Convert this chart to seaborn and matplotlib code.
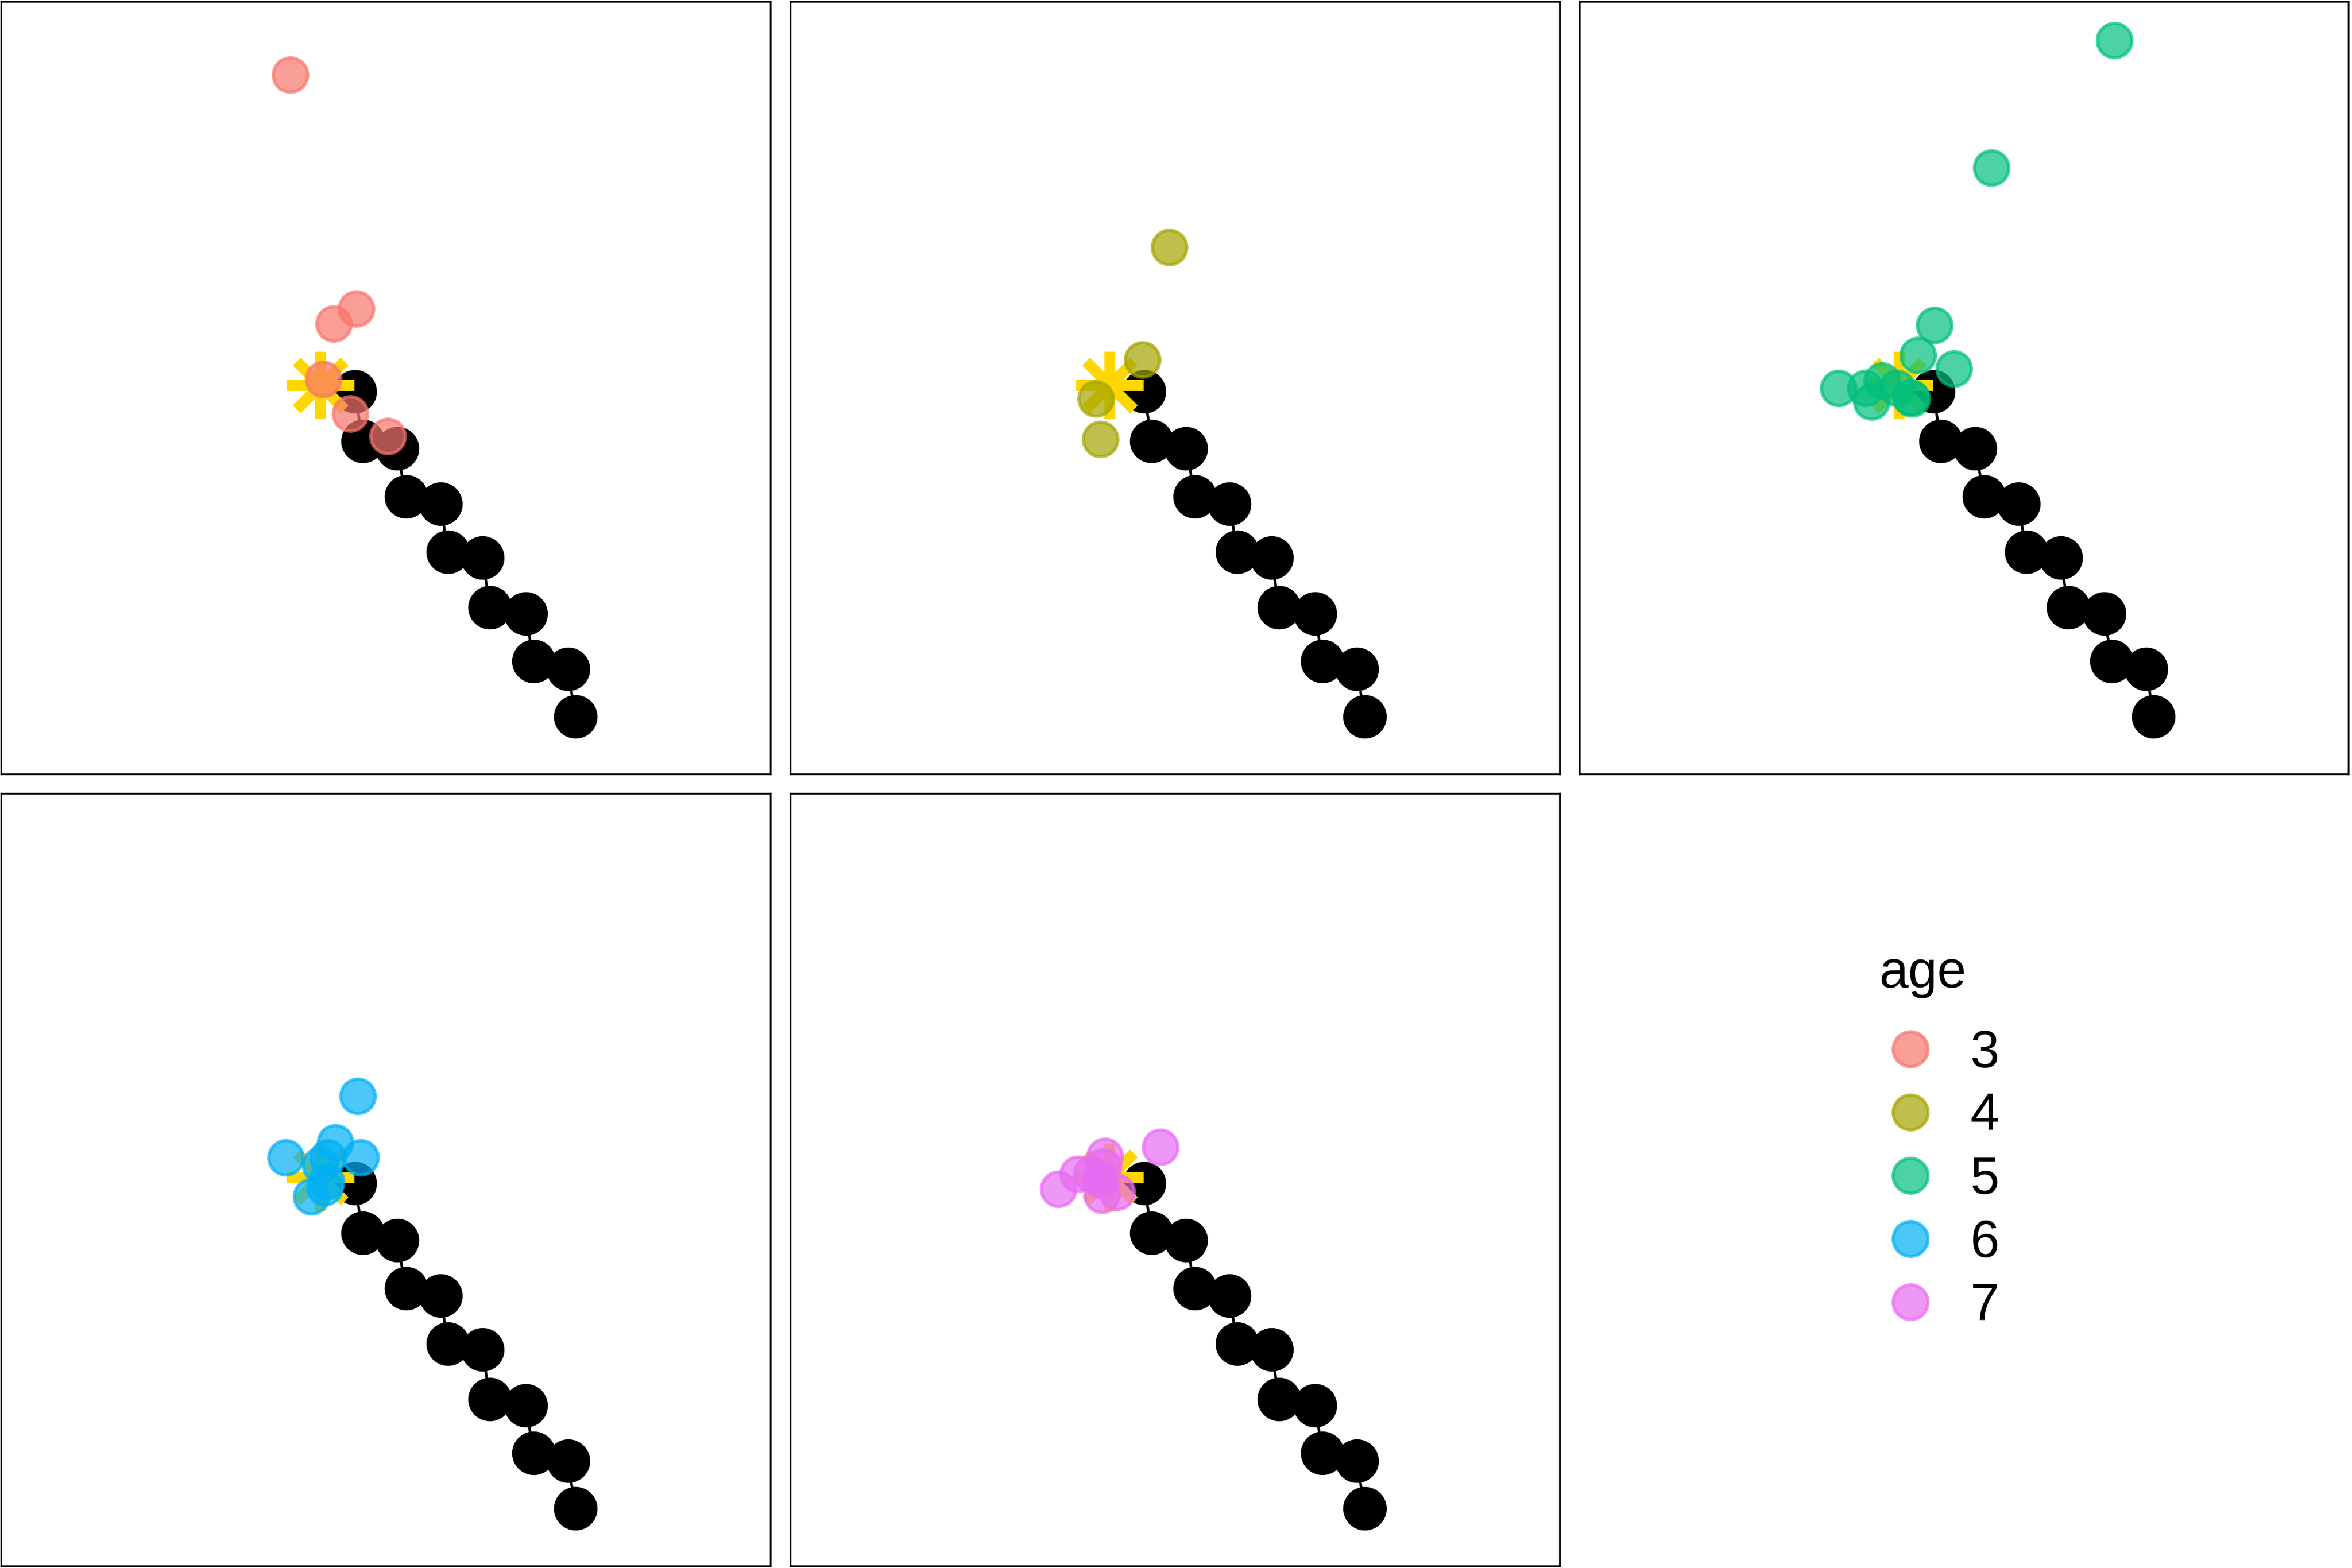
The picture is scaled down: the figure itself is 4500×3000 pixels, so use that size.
import numpy as np
import pandas as pd
import matplotlib
matplotlib.use("Agg")
import matplotlib.pyplot as plt
from matplotlib.lines import Line2D
import seaborn as sns

# reference shape (black points, joined in order)
ref_x = [236, 241, 264, 270, 293, 298, 321, 326, 350, 355, 378, 383]
ref_y = [255, 222, 217, 185, 180, 148, 144, 111, 107, 75, 70, 38]

# consensus / mean landmark (yellow asterisk)
star_x = 213
star_y = 259

# specimen points by age
age3_x = [193, 237, 222, 215, 233, 258]
age3_y = [466, 310, 300, 263, 240, 225]
age4_x = [253, 235, 204, 207]
age4_y = [351, 276, 250, 223]
age5_x = [357, 275, 237, 226, 250, 173, 191, 195, 202, 212, 221, 222]
age5_y = [489, 404, 299, 279, 270, 257, 257, 248, 262, 257, 251, 250]
age6_x = [238, 190, 223, 240, 213, 218, 217, 207, 216]
age6_y = [313, 272, 282, 272, 267, 272, 256, 246, 252]
age7_x = [247, 179, 192, 210, 209, 208, 218, 201, 207]
age7_y = [279, 251, 261, 273, 266, 247, 249, 261, 257]

ages = [3, 4, 5, 6, 7]
age_cols = ["#F8766D", "#A3A500", "#00BF7D", "#00B0F6", "#E76BF3"]

ref = pd.DataFrame({"x": ref_x, "y": ref_y})
spec = pd.concat([
    pd.DataFrame({"x": age3_x, "y": age3_y, "age": 3}),
    pd.DataFrame({"x": age4_x, "y": age4_y, "age": 4}),
    pd.DataFrame({"x": age5_x, "y": age5_y, "age": 5}),
    pd.DataFrame({"x": age6_x, "y": age6_y, "age": 6}),
    pd.DataFrame({"x": age7_x, "y": age7_y, "age": 7}),
], ignore_index=True)
palette = dict(zip(ages, age_cols))

sns.set_style("white")
plt.rcParams["font.family"] = ["Liberation Sans", "DejaVu Sans"]
plt.rcParams["text.color"] = "black"

fig = plt.figure(figsize=(15, 10), dpi=300)
w, h = 0.327, 0.4925
lefts = [0.0005, 0.336, 0.6715]
bottoms = [0.5065, 0.0015]

slots = [(0, 0), (0, 1), (0, 2), (1, 0), (1, 1)]
for age, (r, c) in zip(ages, slots):
    ax = fig.add_axes([lefts[c], bottoms[r], w, h])
    ax.plot(ref["x"], ref["y"], color="black", lw=1.2, zorder=1)
    sns.scatterplot(data=ref, x="x", y="y", color="black", s=400,
                    linewidth=0, ax=ax, zorder=2)
    ax.plot([star_x], [star_y], marker=(8, 2, 0), markersize=31,
            markeredgewidth=5, color="#FFD700", linestyle="none", zorder=3)
    sub = spec[spec["age"] == age]
    sns.scatterplot(data=sub, x="x", y="y", hue="age", palette=palette,
                    s=250, alpha=0.7, edgecolor=palette[age], linewidth=1.5,
                    legend=False, ax=ax, zorder=4)
    ax.set_xlim(0, 513)
    ax.set_ylim(0, 515)
    ax.set_xticks([])
    ax.set_yticks([])
    ax.set_xlabel("")
    ax.set_ylabel("")
    for sp in ax.spines.values():
        sp.set_visible(True)
        sp.set_color("black")
        sp.set_linewidth(0.8)

# legend in the empty sixth slot
fig.text(0.7991, 0.3703, "age", fontsize=24, color="black",
         ha="left", va="baseline")
handles = [Line2D([0], [0], marker="o", linestyle="none", markersize=16,
                  markerfacecolor=col, markeredgecolor=col, alpha=0.7,
                  markeredgewidth=1.5) for col in age_cols]
fig.legend(handles, [str(a) for a in ages],
           loc="center left", bbox_to_anchor=(0.801, 0.2474),
           frameon=False, fontsize=24, labelcolor="black",
           labelspacing=0.27, handlelength=1.0, handletextpad=0.65,
           borderpad=0, borderaxespad=0)

fig.savefig("out.png", dpi=300)
